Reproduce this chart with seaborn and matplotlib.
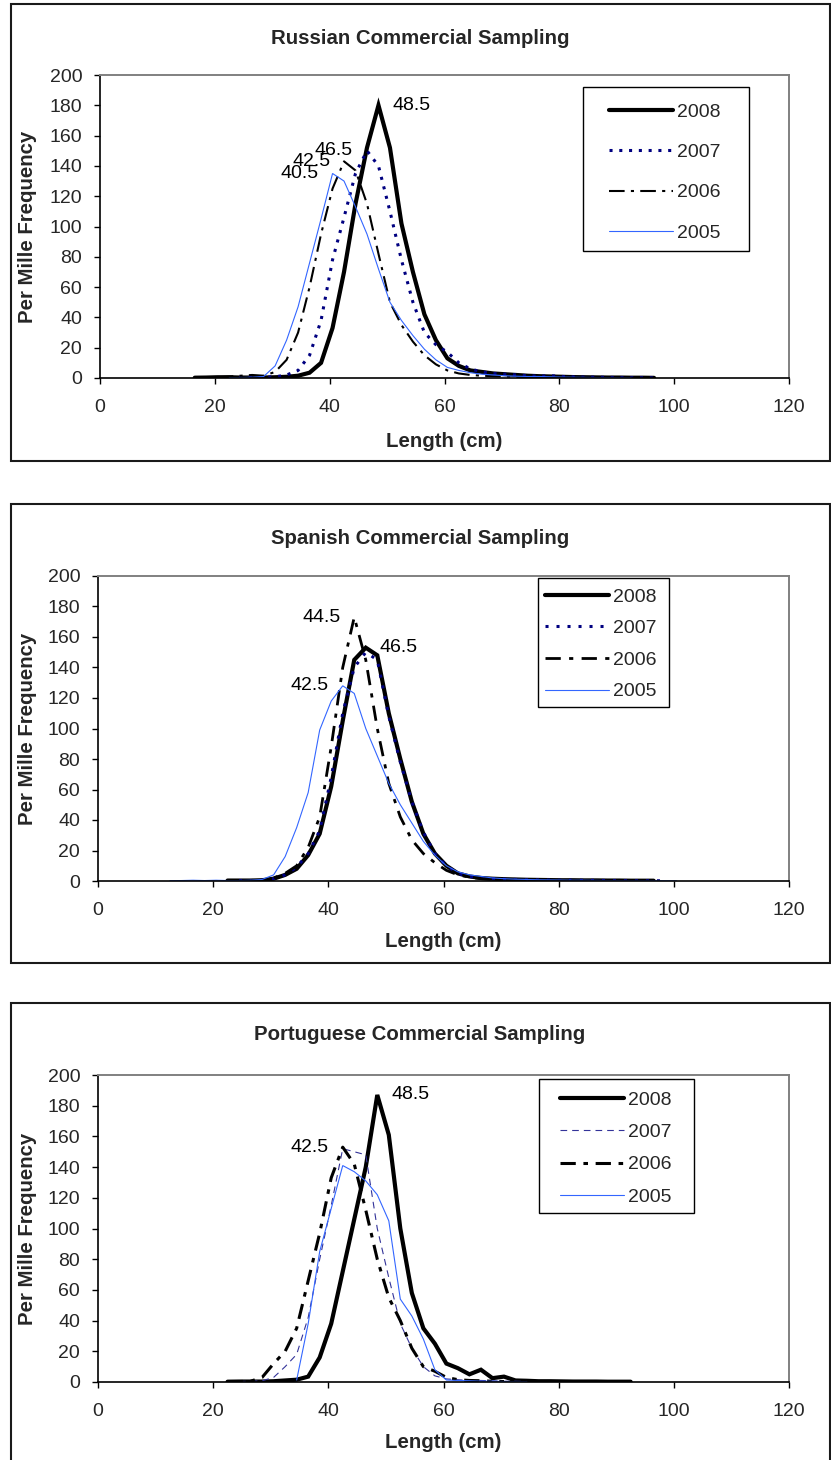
import numpy as np
import pandas as pd
import matplotlib
matplotlib.use("Agg")
import matplotlib.pyplot as plt
from matplotlib.patches import Rectangle
import seaborn as sns

sns.set_theme(style="white")
plt.rcParams['font.family'] = ['Liberation Sans', 'DejaVu Sans']

# ---------------- data ----------------
years = ["2008", "2007", "2006", "2005"]

rus_len = [16.5, 18.5, 20.5, 22.5, 24.5, 26.5, 28.5, 30.5, 32.5, 34.5, 36.5, 38.5, 40.5, 42.5,
           44.5, 46.5, 48.5, 50.5, 52.5, 54.5, 56.5, 58.5, 60.5, 62.5, 64.5, 66.5, 68.5, 70.5,
           72.5, 74.5, 76.5, 78.5, 80.5, 82.5, 84.5, 86.5, 88.5, 90.5, 92.5, 94.5, 96.5]
rus_2008 = [0.2, 0.3, 0.5, 0.5, 0.3, 0.3, 0.3, 0.5, 0.8, 1.5, 3.5, 10, 33, 70,
            115, 152, 180, 152, 102, 70, 42, 25, 13, 8, 5, 4, 3, 2.5,
            2, 1.5, 1.2, 1, 0.8, 0.6, 0.5, 0.4, 0.3, 0.3, 0.2, 0.2, 0.1]
rus_2007 = [np.nan, np.nan, np.nan, 0.3, 0.3, 0.5, 0.5, 0.8, 2, 5, 15, 38, 78, 106,
            135, 150, 140, 110, 78, 50, 30, 22, 17, 10, 6, 4, 3, 2.5,
            2, 1.5, 1.2, 1.5, 1, 0.8, 0.6, 0.5, 0.4, 0.3, 0.2, 0.2, 0.1]
rus_2006 = [np.nan, np.nan, 0.5, 1, 1.5, 2, 1.5, 4, 12, 30, 60, 95, 125, 143,
            137, 115, 82, 50, 35, 24, 15, 9, 5, 3, 2, 1.5, 1.2, 1,
            0.8, 0.6, 0.5, 0.4, 0.3, 0.3, 0.2, np.nan, np.nan, np.nan, np.nan, np.nan, np.nan]
rus_2005 = [np.nan, np.nan, np.nan, 0.3, 0.3, 0.5, 1, 8, 25, 47, 76, 105, 135, 130,
            113, 95, 72, 50, 38, 28, 19, 12, 7, 5, 3.5, 2.5, 2, 1.5,
            1.2, 1, 1, 0.8, 0.6, 0.5, 0.4, 0.3, 0.3, 0.2, 0.2, np.nan, np.nan]

spa_len = [12.5, 14.5, 16.5, 18.5, 20.5, 22.5, 24.5, 26.5, 28.5, 30.5, 32.5, 34.5, 36.5, 38.5,
           40.5, 42.5, 44.5, 46.5, 48.5, 50.5, 52.5, 54.5, 56.5, 58.5, 60.5, 62.5, 64.5, 66.5,
           68.5, 70.5, 72.5, 74.5, 76.5, 78.5, 80.5, 82.5, 84.5, 86.5, 88.5, 90.5, 92.5, 94.5,
           96.5, 98.5, 100.5]
spa_2008 = [np.nan, np.nan, np.nan, np.nan, np.nan, 0.3, 0.3, 0.3, 0.5, 1.5, 4, 8, 17, 31,
            62, 105, 145, 153, 148, 110, 80, 52, 31, 18, 10, 5, 3, 2,
            1.5, 1.2, 1, 0.8, 0.7, 0.6, 0.5, 0.5, 0.4, 0.4, 0.3, 0.3, 0.2, 0.2,
            0.2, np.nan, np.nan]
spa_2007 = [np.nan, np.nan, np.nan, np.nan, np.nan, np.nan, 0.2, 0.3, 0.5, 1.5, 4, 9, 18, 33,
            68, 110, 140, 150, 145, 108, 78, 52, 32, 18, 10, 5, 3, 2,
            1.5, 1.2, 1, 0.8, 0.7, 0.6, 0.5, 0.5, 0.4, 0.4, 0.3, 0.3, 0.2, 0.2,
            0.2, 0.1, np.nan]
spa_2006 = [np.nan, np.nan, np.nan, np.nan, np.nan, np.nan, np.nan, 0.3, 0.5, 2, 5, 10, 22, 42,
            88, 140, 173, 145, 100, 64, 42, 27, 18, 12, 7, 4, 2.5, 1.5,
            1, 0.8, 0.6, 0.5, 0.4, 0.3, 0.3, 0.2, 0.2, np.nan, np.nan, np.nan, np.nan, np.nan,
            np.nan, np.nan, np.nan]
spa_2005 = [0.2, 0.3, 0.5, 0.3, 0.5, 0.3, 0.3, 0.5, 1, 4, 16, 35, 58, 99,
            118, 128, 123, 100, 82, 64, 50, 38, 26, 17, 10, 6, 4, 3,
            2, 1.5, 1.2, 1, 0.8, 0.7, 0.6, 0.5, 0.5, 0.4, 0.3, 0.3, 0.2, 0.2,
            0.2, 0.1, 0.1]

por_len = [22.5, 24.5, 26.5, 28.5, 30.5, 32.5, 34.5, 36.5, 38.5, 40.5, 42.5, 44.5, 46.5, 48.5,
           50.5, 52.5, 54.5, 56.5, 58.5, 60.5, 62.5, 64.5, 66.5, 68.5, 70.5, 72.5, 74.5, 76.5,
           78.5, 80.5, 82.5, 84.5, 86.5, 88.5, 90.5, 92.5]
por_2008 = [0.2, 0.3, 0.3, 0.3, 0.5, 1, 1.5, 3.5, 16, 38, 72, 106, 140, 187,
            161, 100, 58, 35, 25, 12, 9, 5, 8, 2.5, 3.5, 1, 0.8, 0.5,
            0.5, 0.4, 0.3, 0.3, 0.3, 0.2, 0.2, 0.2]
por_2007 = [np.nan, 0.3, 0.5, 0.8, 3, 10, 18, 42, 80, 115, 152, 150, 148, 100,
            68, 38, 22, 10, 4, 2, 1.5, 1, 1, 0.8, 0.5, 0.5, 0.3, np.nan,
            np.nan, np.nan, np.nan, np.nan, np.nan, np.nan, np.nan, np.nan]
por_2006 = [0.2, 0.3, 0.5, 3, 12, 20, 35, 66, 97, 133, 153, 142, 112, 80,
            55, 40, 22, 10, 7, 3, 1.5, 1, 0.8, 0.5, 0.3, np.nan, np.nan, np.nan,
            np.nan, np.nan, np.nan, np.nan, np.nan, np.nan, np.nan, np.nan]
por_2005 = [np.nan, np.nan, np.nan, np.nan, np.nan, np.nan, 1.3, 38, 85, 113, 141, 137, 131, 122,
            105, 54, 43, 28, 8, 1.3, 1, 0.8, 0.5, 0.5, 0.3, 0.3, 0.2, np.nan,
            np.nan, np.nan, np.nan, np.nan, np.nan, np.nan, np.nan, np.nan]

titles = ["Russian Commercial Sampling", "Spanish Commercial Sampling",
          "Portuguese Commercial Sampling"]
x_ticks = [0, 20, 40, 60, 80, 100, 120]
y_ticks = [0, 20, 40, 60, 80, 100, 120, 140, 160, 180, 200]
x_title = "Length (cm)"
y_title = "Per Mille Frequency"

# peak labels: (year, side)
peak_labels = [
    [("2008", "right"), ("2007", "left"), ("2006", "left"), ("2005", "left")],
    [("2006", "left"), ("2008", "right"), ("2005", "left")],
    [("2008", "right"), ("2006", "left")],
]

panel_data = [
    (rus_len, [rus_2008, rus_2007, rus_2006, rus_2005]),
    (spa_len, [spa_2008, spa_2007, spa_2006, spa_2005]),
    (por_len, [por_2008, por_2007, por_2006, por_2005]),
]

# ---------------- styles ----------------
BLUE = "#3366FF"
NAVY = "#000080"
styles = [
    {"2008": dict(color="black", lw=3.0, ls="-"),
     "2007": dict(color=NAVY, lw=2.2, ls=(0, (1, 2.2))),
     "2006": dict(color="black", lw=1.5, ls=(0, (7.5, 3, 1.5, 3))),
     "2005": dict(color=BLUE, lw=0.8, ls="-")},
    {"2008": dict(color="black", lw=3.0, ls="-"),
     "2007": dict(color=NAVY, lw=2.2, ls=(0, (1, 2.6))),
     "2006": dict(color="black", lw=2.0, ls=(0, (5.5, 3, 1.5, 3))),
     "2005": dict(color=BLUE, lw=0.8, ls="-")},
    {"2008": dict(color="black", lw=3.0, ls="-"),
     "2007": dict(color="#333399", lw=0.8, ls=(0, (6, 4.5))),
     "2006": dict(color="black", lw=2.2, ls=(0, (5, 2.5, 1.5, 2.5))),
     "2005": dict(color=BLUE, lw=0.8, ls="-")},
]

W, H = 831, 1460
fig = plt.figure(figsize=(W / 100, H / 100), dpi=100)


def fx(px):
    return px / W


def fy(py):
    return 1 - py / H


layout = [
    dict(ax=(100, 75, 789, 378), frame=(11, 4, 830, 461), title_y=38, xlab_y=442,
         leg_anchor=(609, 103), leg_box=(583, 87, 749, 251), leg_ls=1.17),
    dict(ax=(98, 576, 789, 881), frame=(11, 504, 830, 963), title_y=538, xlab_y=942,
         leg_anchor=(545, 588), leg_box=(538, 578, 669, 707), leg_ls=0.72),
    dict(ax=(98, 1075, 789, 1382), frame=(11, 1003, 830, 1475), title_y=1034, xlab_y=1442,
         leg_anchor=(560, 1091), leg_box=(539, 1079, 694, 1213), leg_ls=0.76),
]

FS = 14
FS_LAB = 14.7

for i, (lengths, series) in enumerate(panel_data):
    L = layout[i]
    l, t, r, b = L["ax"]
    # outer chart frame
    fl, ft, fr, fb = L["frame"]
    fig.add_artist(Rectangle((fx(fl), fy(fb)), fx(fr) - fx(fl), fy(ft) - fy(fb),
                             transform=fig.transFigure, fill=False,
                             edgecolor="#1a1a1a", lw=1.5, zorder=0))
    ax = fig.add_axes([fx(l), fy(b), (r - l) / W, (b - t) / H])
    ax.set_facecolor("white")

    df = pd.DataFrame({"length": lengths})
    for yr, vals in zip(years, series):
        df[yr] = vals
    for yr in years:
        st = styles[i][yr]
        d = df[["length", yr]].dropna()
        sns.lineplot(data=d, x="length", y=yr, ax=ax, color=st["color"], lw=st["lw"],
                     linestyle=st["ls"], label=yr, estimator=None, sort=False,
                     solid_joinstyle="miter", dash_capstyle="butt")

    ax.set_xlim(0, 120)
    ax.set_ylim(0, 200)
    ax.set_xticks(x_ticks)
    ax.set_yticks(y_ticks)
    ax.set_xticklabels([str(v) for v in x_ticks], fontsize=FS)
    ax.set_yticklabels([str(v) for v in y_ticks], fontsize=FS)
    ax.tick_params(axis="both", direction="out", length=4.3, width=1.0, color="black",
                   bottom=True, left=True)
    ax.tick_params(axis="y", pad=8.5)
    ax.tick_params(axis="x", pad=10.5)
    ax.set_xlabel("")
    ax.set_ylabel("")
    for s in ["left", "bottom"]:
        ax.spines[s].set_color("black")
        ax.spines[s].set_linewidth(1.2)
    for s in ["top", "right"]:
        ax.spines[s].set_color("#808080")
        ax.spines[s].set_linewidth(1.4)
    ax.grid(False)

    # peak labels
    for yr, side in peak_labels[i]:
        d = df[["length", yr]].dropna()
        k = d[yr].idxmax()
        px_, py_ = d.loc[k, "length"], d.loc[k, yr]
        off = 10 if side == "right" else -10
        ax.annotate(f"{px_:.1f}", xy=(px_, py_), xytext=(off, 0), textcoords="offset points",
                    ha="left" if side == "right" else "right", va="center",
                    fontsize=FS, color="black")

    # legend
    leg = ax.legend(loc="upper left", bbox_to_anchor=(fx(L["leg_anchor"][0]), fy(L["leg_anchor"][1])),
                    bbox_transform=fig.transFigure, frameon=False, borderpad=0, borderaxespad=0,
                    fontsize=FS, handlelength=3.3, handletextpad=0.2,
                    labelspacing=L["leg_ls"])
    bl, bt, br, bb = L["leg_box"]
    fig.add_artist(Rectangle((fx(bl), fy(bb)), fx(br) - fx(bl), fy(bt) - fy(bb),
                             transform=fig.transFigure, fill=False,
                             edgecolor="black", lw=1.0, zorder=5))

    # texts
    fig.text(fx(420), fy(L["title_y"]), titles[i], ha="center", va="center",
             fontsize=FS_LAB, fontweight="bold")
    fig.text(fx((l + r) / 2), fy(L["xlab_y"]), x_title, ha="center", va="center",
             fontsize=FS_LAB, fontweight="bold")
    fig.text(fx(28), fy((t + b) / 2), y_title, ha="center", va="center", rotation=90,
             fontsize=FS_LAB, fontweight="bold")

fig.savefig("out.png", dpi=100)
